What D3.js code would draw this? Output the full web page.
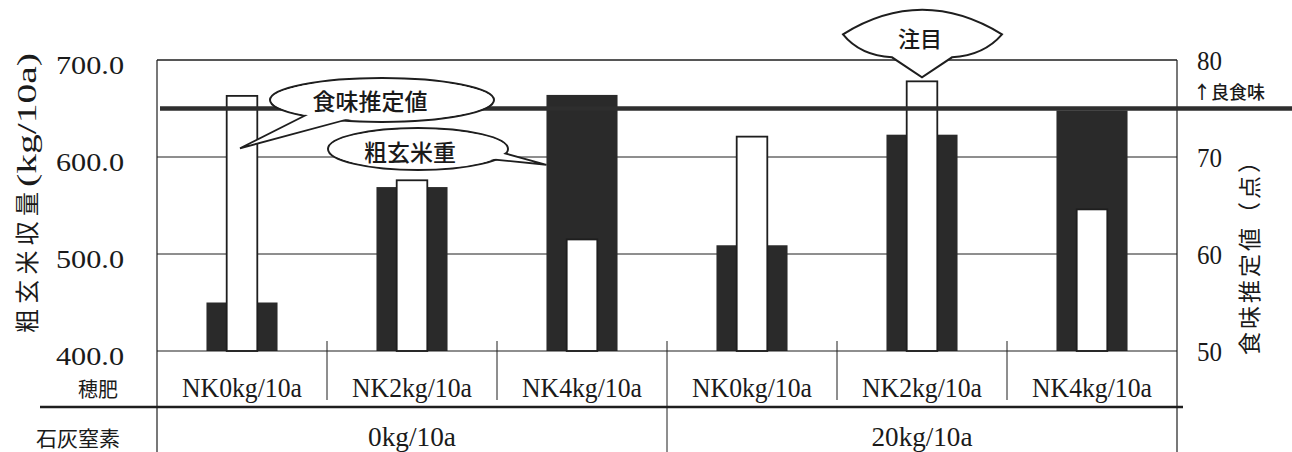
<!DOCTYPE html>
<html>
<head>
<meta charset="utf-8">
<script src="https://cdn.jsdelivr.net/npm/d3@7"></script>
<style>
  body { margin: 0; background: #fff; }
  svg { display: block; }
  .serif { font-family: "Liberation Serif", "DejaVu Serif", serif; fill: #1a1a1a; }
  .goth { font-family: "Noto Sans CJK JP", "Noto Sans", sans-serif; fill: #1a1a1a; }
</style>
</head>
<body>
<div id="chart"></div>
<script>
// values
const fertLabels = ["NK0kg/10a", "NK2kg/10a", "NK4kg/10a", "NK0kg/10a", "NK2kg/10a", "NK4kg/10a"];
const limeLabels = ["0kg/10a", "20kg/10a"];
const brownRice = [450, 569, 664, 509, 623, 648];      // 粗玄米収量 kg/10a (left)
const tasteScore = [76.3, 67.6, 61.5, 72.1, 77.8, 64.6]; // 食味推定値 (right)
const leftTicks = [400, 500, 600, 700];
const rightTicks = [50, 60, 70, 80];
const goodTaste = 75;

const W = 1292, H = 452;
const plot = { left: 157, right: 1177, top: 60, bottom: 351 };
const ink = "#1e1e1e", barInk = "#2a2a2a";
const serifFont = '"Liberation Serif", "DejaVu Serif", serif';

const svg = d3.select("#chart").append("svg")
  .attr("width", W).attr("height", H);

const x = d3.scaleBand().domain(d3.range(fertLabels.length))
  .range([plot.left, plot.right]).padding(0);
const yL = d3.scaleLinear().domain([400, 700]).range([plot.bottom, plot.top]);
const yR = d3.scaleLinear().domain([50, 80]).range([plot.bottom, plot.top]);

const darkW = x.bandwidth() * 0.418;
const whiteW = x.bandwidth() * 0.18;

// grid lines
svg.append("g").selectAll("line")
  .data(leftTicks.filter(d => d > 400))
  .join("line")
    .attr("x1", plot.left).attr("x2", plot.right)
    .attr("y1", d => yL(d)).attr("y2", d => yL(d))
    .attr("stroke", ink).attr("stroke-width", 1);

// left axis labels
const axL = svg.append("g")
  .attr("transform", `translate(${plot.left},5)`)
  .call(d3.axisLeft(yL).tickValues(leftTicks).tickFormat(d3.format(".1f")).tickSize(0).tickPadding(33));
axL.select(".domain").remove();
axL.attr("font-family", serifFont).attr("font-size", 26);
axL.selectAll("text").attr("fill", "#1a1a1a")
  .attr("textLength", 68).attr("lengthAdjust", "spacingAndGlyphs");

// right axis labels
const axR = svg.append("g")
  .attr("transform", `translate(${plot.right},1)`)
  .call(d3.axisRight(yR).tickValues(rightTicks).tickSize(0).tickPadding(20));
axR.select(".domain").remove();
axR.attr("font-family", serifFont).attr("font-size", 27);
axR.selectAll("text").attr("fill", "#1a1a1a")
  .attr("textLength", 25).attr("lengthAdjust", "spacingAndGlyphs");

// bars
const bars = svg.append("g");
bars.selectAll("rect.dark")
  .data(brownRice)
  .join("rect")
    .attr("class", "dark")
    .attr("x", (d, i) => x(i) + (x.bandwidth() - darkW) / 2)
    .attr("width", darkW)
    .attr("y", d => yL(d))
    .attr("height", d => yL(400) - yL(d))
    .attr("fill", barInk);
bars.selectAll("rect.white")
  .data(tasteScore)
  .join("rect")
    .attr("class", "white")
    .attr("x", (d, i) => x(i) + (x.bandwidth() - whiteW) / 2)
    .attr("width", whiteW)
    .attr("y", d => yR(d))
    .attr("height", d => yR(50) - yR(d))
    .attr("fill", "#fff").attr("stroke", ink).attr("stroke-width", 1.8);

// frame
svg.append("line").attr("x1", plot.left).attr("x2", plot.right)
  .attr("y1", plot.top).attr("y2", plot.top).attr("stroke", ink).attr("stroke-width", 1);
svg.append("line").attr("x1", plot.left).attr("x2", plot.right)
  .attr("y1", plot.bottom).attr("y2", plot.bottom).attr("stroke", ink).attr("stroke-width", 1.2);
[plot.left, plot.right].forEach(px => {
  svg.append("line").attr("x1", px).attr("x2", px)
    .attr("y1", plot.top).attr("y2", H).attr("stroke", ink).attr("stroke-width", 1.2);
});

// category separators
d3.range(1, fertLabels.length).forEach(i => {
  svg.append("line")
    .attr("x1", x(i)).attr("x2", x(i))
    .attr("y1", plot.bottom - 10).attr("y2", i === 3 ? H : 400)
    .attr("stroke", ink).attr("stroke-width", 1);
});

// good-taste threshold
svg.append("line")
  .attr("x1", plot.left + 3).attr("x2", W)
  .attr("y1", yR(goodTaste)).attr("y2", yR(goodTaste))
  .attr("stroke", "#2e2e2e").attr("stroke-width", 4.5);
svg.append("text").attr("class", "goth")
  .attr("x", 1193).attr("y", yR(goodTaste) - 10)
  .attr("font-size", 18).attr("font-weight", 500)
  .text("↑良食味");

// category labels
svg.append("g").selectAll("text")
  .data(fertLabels)
  .join("text")
    .attr("class", "serif")
    .attr("x", (d, i) => x(i) + x.bandwidth() / 2)
    .attr("y", 388)
    .attr("text-anchor", "middle").attr("dominant-baseline", "central")
    .attr("font-size", 27).attr("textLength", 120).attr("lengthAdjust", "spacingAndGlyphs")
    .text(d => d);
svg.append("g").selectAll("text")
  .data(limeLabels)
  .join("text")
    .attr("class", "serif")
    .attr("x", (d, i) => (x(i * 3) + x(i * 3 + 2) + x.bandwidth()) / 2)
    .attr("y", 437)
    .attr("text-anchor", "middle").attr("dominant-baseline", "central")
    .attr("font-size", 27)
    .attr("textLength", (d, i) => i ? 101 : 88).attr("lengthAdjust", "spacingAndGlyphs")
    .text(d => d);
svg.append("line").attr("x1", 40).attr("x2", 1183)
  .attr("y1", 407).attr("y2", 407).attr("stroke", ink).attr("stroke-width", 2.5);
svg.append("text").attr("class", "goth")
  .attr("x", 98).attr("y", 388).attr("text-anchor", "middle").attr("dominant-baseline", "central")
  .attr("font-size", 20).text("穂肥");
svg.append("text").attr("class", "goth")
  .attr("x", 78).attr("y", 437).attr("text-anchor", "middle").attr("dominant-baseline", "central")
  .attr("font-size", 21).text("石灰窒素");

// axis titles
svg.append("text").attr("class", "goth")
  .attr("transform", "translate(25,333) rotate(-90)")
  .attr("dominant-baseline", "central").attr("font-size", 24)
  .attr("textLength", 141).attr("lengthAdjust", "spacing")
  .text("粗玄米収量");
svg.append("text").attr("class", "serif")
  .attr("transform", "translate(26,187) rotate(-90)")
  .attr("dominant-baseline", "central").attr("font-size", 28)
  .attr("textLength", 134).attr("lengthAdjust", "spacingAndGlyphs")
  .text("(kg/10a)");
svg.append("text").attr("class", "goth")
  .attr("transform", "translate(1248,355) rotate(-90)")
  .attr("dominant-baseline", "central").attr("font-size", 23)
  .attr("textLength", 205).attr("lengthAdjust", "spacing")
  .text("食味推定値（点）");

// callouts
function balloon(cx, cy, rx, ry, a, tip, b, label, tx, ty) {
  const g = svg.append("g");
  g.append("ellipse").attr("cx", cx).attr("cy", cy).attr("rx", rx).attr("ry", ry)
    .attr("fill", "#fff").attr("stroke", ink).attr("stroke-width", 2);
  g.append("path").attr("d", `M${a[0]},${a[1]}L${tip[0]},${tip[1]}L${b[0]},${b[1]}`)
    .attr("fill", "#fff").attr("stroke", ink).attr("stroke-width", 1.8);
  g.append("ellipse").attr("cx", cx).attr("cy", cy).attr("rx", rx - 1.6).attr("ry", ry - 1.6)
    .attr("fill", "#fff");
  g.append("text").attr("class", "goth")
    .attr("x", tx).attr("y", ty).attr("text-anchor", "middle").attr("dominant-baseline", "central")
    .attr("font-size", 23).attr("font-weight", 500).text(label);
}

const tip1 = [x(0) + x.bandwidth() / 2 - 2, yR(70.9)];
balloon(382, 100, 112, 22, [320, 108], tip1, [360, 116], "食味推定値", 370, 100);

const tip2 = [x(2) + (x.bandwidth() - darkW) / 2, yL(592)];
balloon(418, 149, 90, 21, [478, 146], tip2, [478, 158], "粗玄米重", 410, 151);

// 注目 balloon pointing at the top of the 20kg / NK2 taste bar
const tx5 = x(4) + x.bandwidth() / 2, ty5 = yR(tasteScore[4]) - 4;
svg.append("path")
  .attr("d", `M${tx5 - 79},${ty5 - 43}Q${tx5},${ty5 - 92} ${tx5 + 80},${ty5 - 43}` +
             `Q${tx5 + 62},${ty5 - 22} ${tx5 + 30},${ty5 - 20}L${tx5},${ty5}L${tx5 - 30},${ty5 - 20}` +
             `Q${tx5 - 62},${ty5 - 22} ${tx5 - 79},${ty5 - 43}Z`)
  .attr("fill", "#fff").attr("stroke", ink).attr("stroke-width", 2);
svg.append("text").attr("class", "goth")
  .attr("x", tx5 - 2).attr("y", ty5 - 40).attr("text-anchor", "middle").attr("dominant-baseline", "central")
  .attr("font-size", 22).attr("font-weight", 500).text("注目");
</script>
</body>
</html>
